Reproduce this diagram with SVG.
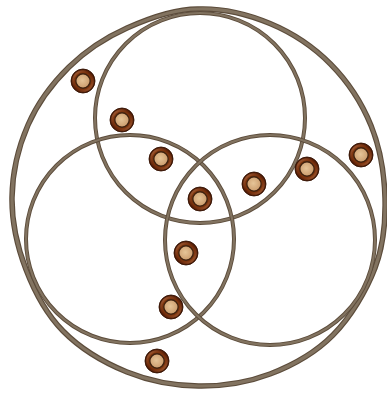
<svg xmlns="http://www.w3.org/2000/svg" width="387" height="395" viewBox="0 0 387 395">
<style>
.ring{fill:none;stroke:#5c4c3b;}
.ringhi{fill:none;stroke:#827360;}
.outer{stroke-width:5.5;}
.outerhi{stroke-width:3.2;}
.inner{stroke-width:4;}
.innerhi{stroke-width:2.2;}
.rim{fill:url(#rimG);stroke:#361303;stroke-width:0.9;}
.hl{fill:none;stroke:url(#hlG);stroke-width:2;opacity:0.75;}
.core{fill:url(#coreG);stroke:#3f2210;stroke-width:1.4;}
</style>
<defs>
<radialGradient id="rimG" cx="0.5" cy="0.5" r="0.5">
<stop offset="0.55" stop-color="#96440f"/>
<stop offset="0.8" stop-color="#6a280a"/>
<stop offset="1" stop-color="#401503"/>
</radialGradient>
<linearGradient id="hlG" x1="0" y1="0" x2="1" y2="1">
<stop offset="0" stop-color="#d89060"/>
<stop offset="0.5" stop-color="#7a3210" stop-opacity="0"/>
<stop offset="1" stop-color="#cf8350"/>
</linearGradient>
<radialGradient id="coreG" cx="0.45" cy="0.45" r="0.6">
<stop offset="0" stop-color="#e6c598"/>
<stop offset="1" stop-color="#c9996a"/>
</radialGradient>
<g id="dot"><circle class="rim" r="12"/><circle class="hl" r="9.8"/><circle class="core" r="7.2"/></g>
<path id="outerPath" d="M198.5,9 C222.33,8.25 248,14.33 270,23.5 C292,32.67 313.67,47 330.5,64 C347.33,81 361.92,103.17 371,125.5 C380.08,147.83 384.33,174.250 385,198 C385.67,221.75 383.67,245.17 375,268 C366.33,290.83 350.5,317.33 333,335 C315.5,352.67 292.42,365.5 270,374 C247.58,382.5 222.33,386.33 198.5,386 C174.67,385.67 149.58,381.17 127,372 C104.42,362.83 79.83,348.08 63,331 C46.17,313.92 34.5,291.75 26,269.5 C17.5,247.25 11.67,221.58 12,197.5 C12.33,173.42 18.5,146.75 28,125 C37.5,103.25 52.5,83.17 69,67 C85.5,50.83 105.42,37.67 127,28 C148.58,18.33 174.67,8.75 198.5,9 Z"/>
<circle id="topC" cx="200" cy="118" r="105"/>
<circle id="leftC" cx="130" cy="239" r="104"/>
<circle id="rightC" cx="270" cy="240" r="105"/>
</defs>
<rect width="387" height="395" fill="#ffffff"/>
<g id="rings">
<g id="outer"><use href="#outerPath" class="ring outer"/><use href="#outerPath" class="ringhi outerhi"/></g>
<g id="top"><use href="#topC" class="ring inner"/><use href="#topC" class="ringhi innerhi"/></g>
<g id="left"><use href="#leftC" class="ring inner"/><use href="#leftC" class="ringhi innerhi"/></g>
<g id="right"><use href="#rightC" class="ring inner"/><use href="#rightC" class="ringhi innerhi"/></g>
</g>
<g id="dots">
<use id="d1" href="#dot" x="83" y="81"/>
<use id="d2" href="#dot" x="122" y="120"/>
<use id="d3" href="#dot" x="161" y="159"/>
<use id="d4" href="#dot" x="200" y="199"/>
<use id="d5" href="#dot" x="254" y="184"/>
<use id="d6" href="#dot" x="307" y="169"/>
<use id="d7" href="#dot" x="361" y="155"/>
<use id="d8" href="#dot" x="186" y="253"/>
<use id="d9" href="#dot" x="171" y="307"/>
<use id="d10" href="#dot" x="157" y="361"/>
</g>
</svg>
